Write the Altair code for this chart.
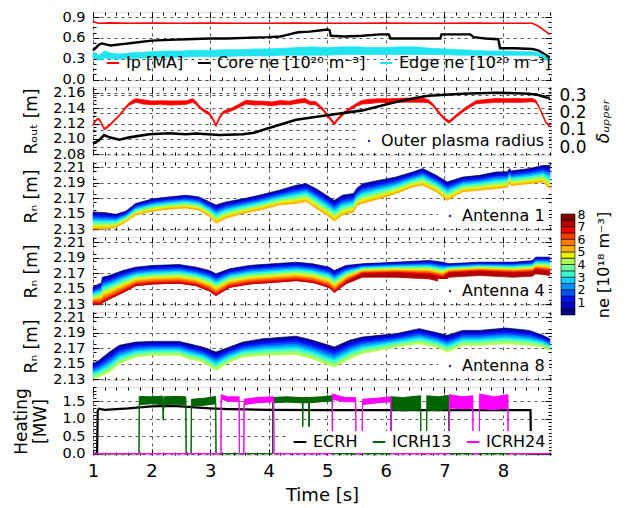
import altair as alt
import pandas as pd

FONT = "DejaVu Sans"
W, H, GAP = 458, 68, 7
XDOM = [1.0, 8.82]
YDOM1 = [-0.007, 0.972]
YDOM2 = [2.0791, 2.1674]
DDOM2 = [-0.046, 0.348]
YDOMA = [2.1288, 2.2165]
YDOM6 = [-0.037, 1.9]

# ---------------- Panel 1: Ip, core ne, edge ne ----------------
IP_T = [1.00, 1.05, 1.10, 1.30, 1.60, 2.00, 2.50, 3.00, 3.50, 4.00, 4.50, 5.00, 5.50, 6.00, 6.50, 7.00, 7.50, 8.00, 8.50, 8.60, 8.70, 8.80]
IP_V = [0.83, 0.82, 0.81, 0.815, 0.81, 0.812, 0.81, 0.812, 0.81, 0.81, 0.812, 0.81, 0.81, 0.812, 0.81, 0.81, 0.812, 0.81, 0.81, 0.77, 0.71, 0.65]

CORE_T = [1.00, 1.05, 1.10, 1.15, 1.20, 1.30, 1.40, 1.50, 1.70, 2.00, 2.30, 2.60, 3.00, 3.30, 3.60,
          4.00, 4.20, 4.30, 4.40, 4.50, 4.70, 4.90, 5.00, 5.04, 5.06, 5.30, 5.60, 5.90, 6.05, 6.08,
          6.30, 6.60, 6.93, 6.95, 7.20, 7.44, 7.50, 7.70, 7.92, 7.95, 8.20, 8.50, 8.60, 8.70, 8.80]
CORE_V = [0.42, 0.46, 0.50, 0.52, 0.51, 0.49, 0.50, 0.51, 0.53, 0.56, 0.57, 0.58, 0.59, 0.59, 0.60,
          0.61, 0.62, 0.64, 0.66, 0.68, 0.69, 0.71, 0.72, 0.71, 0.63, 0.62, 0.63, 0.65, 0.65, 0.59,
          0.59, 0.59, 0.59, 0.65, 0.65, 0.65, 0.61, 0.59, 0.58, 0.45, 0.45, 0.44, 0.42, 0.37, 0.32]

EDGE_T = [1.00, 1.05, 1.10, 1.15, 1.20, 1.30, 1.40, 1.50, 1.60, 1.80, 2.00, 2.25, 2.50, 2.75, 3.00,
          3.25, 3.50, 3.75, 4.00, 4.25, 4.50, 4.75, 5.00, 5.25, 5.50, 5.75, 6.00, 6.25, 6.50, 6.75,
          7.00, 7.25, 7.50, 7.75, 8.00, 8.25, 8.50, 8.60, 8.70, 8.80]
EDGE_LO = [0.31, 0.30, 0.28, 0.29, 0.31, 0.30, 0.29, 0.30, 0.30, 0.31, 0.31, 0.32, 0.32, 0.33, 0.33,
           0.33, 0.34, 0.34, 0.34, 0.35, 0.35, 0.35, 0.35, 0.36, 0.36, 0.36, 0.36, 0.36, 0.36, 0.36,
           0.36, 0.35, 0.35, 0.35, 0.35, 0.35, 0.35, 0.34, 0.30, 0.26]
EDGE_HI = [0.39, 0.37, 0.35, 0.38, 0.41, 0.38, 0.37, 0.37, 0.38, 0.39, 0.40, 0.41, 0.41, 0.42, 0.42,
           0.43, 0.43, 0.44, 0.44, 0.45, 0.46, 0.47, 0.46, 0.47, 0.47, 0.46, 0.46, 0.47, 0.47, 0.45,
           0.44, 0.43, 0.42, 0.41, 0.41, 0.40, 0.40, 0.39, 0.35, 0.30]
LEG1 = ["Ip [MA]", "Core ne [10²⁰ m⁻³]", "Edge ne [10²⁰ m⁻³]"]

# ---------------- Panel 2: outer radius and triangularity ----------------
ROUT_T = [1.00, 1.10, 1.19, 1.28, 1.45, 1.62, 1.96, 2.30, 2.58, 2.76, 3.16, 3.56, 3.75, 3.95,
          4.30, 4.47, 5.03, 5.60, 6.17, 6.50, 6.73, 7.31, 7.88, 8.45, 8.60, 8.73, 8.80]
ROUT_V = [2.094, 2.098, 2.105, 2.102, 2.099, 2.102, 2.106, 2.1073, 2.106, 2.107, 2.105, 2.106, 2.108, 2.113,
          2.121, 2.125, 2.131, 2.137, 2.148, 2.153, 2.156, 2.1587, 2.160, 2.1587, 2.157, 2.154, 2.153]

DELTA_T = [1.00, 1.04, 1.08, 1.12, 1.16, 1.19, 1.23, 1.28, 1.35, 1.45, 1.55, 1.62, 1.68, 1.74, 1.85,
           2.00, 2.15, 2.30, 2.45, 2.60, 2.70, 2.76, 2.82, 2.90, 2.99, 3.05, 3.10, 3.16, 3.22, 3.30,
           3.38, 3.50, 3.61, 3.75, 3.90, 4.05, 4.20, 4.35, 4.50, 4.62, 4.70, 4.80, 4.92, 5.03, 5.12,
           5.20, 5.30, 5.38, 5.50, 5.60, 5.75, 5.90, 6.05, 6.20, 6.35, 6.50, 6.65, 6.73, 6.80, 6.86,
           6.93, 7.00, 7.08, 7.15, 7.20, 7.35, 7.54, 7.70, 7.88, 8.05, 8.20, 8.35, 8.50, 8.56, 8.62,
           8.68, 8.73, 8.80]
DELTA_C = [0.129, 0.150, 0.164, 0.155, 0.125, 0.106, 0.112, 0.125, 0.150, 0.183, 0.225, 0.250, 0.262, 0.270, 0.262,
           0.256, 0.258, 0.255, 0.256, 0.258, 0.270, 0.255, 0.230, 0.210, 0.192, 0.160, 0.125, 0.170, 0.200, 0.210,
           0.220, 0.240, 0.260, 0.255, 0.255, 0.250, 0.258, 0.255, 0.265, 0.270, 0.255, 0.255, 0.220, 0.173, 0.135,
           0.170, 0.200, 0.220, 0.245, 0.260, 0.265, 0.270, 0.268, 0.270, 0.272, 0.270, 0.270, 0.265, 0.245, 0.220,
           0.190, 0.164, 0.145, 0.165, 0.180, 0.220, 0.260, 0.265, 0.270, 0.270, 0.270, 0.270, 0.272, 0.265, 0.230,
           0.183, 0.145, 0.120]
DELTA_HW = [0.005, 0.005, 0.005, 0.005, 0.005, 0.005, 0.005, 0.005, 0.005, 0.005, 0.006, 0.007, 0.011, 0.010, 0.012,
            0.011, 0.010, 0.012, 0.011, 0.010, 0.011, 0.009, 0.007, 0.007, 0.007, 0.007, 0.007, 0.007, 0.007, 0.008,
            0.008, 0.010, 0.011, 0.012, 0.010, 0.011, 0.012, 0.010, 0.011, 0.012, 0.010, 0.009, 0.007, 0.007, 0.007,
            0.007, 0.007, 0.007, 0.008, 0.011, 0.012, 0.010, 0.012, 0.011, 0.012, 0.010, 0.011, 0.009, 0.007, 0.007,
            0.007, 0.007, 0.007, 0.007, 0.007, 0.008, 0.009, 0.010, 0.011, 0.010, 0.011, 0.010, 0.009, 0.007, 0.005,
            0.005, 0.005, 0.005]
LEG2 = ["Outer plasma radius"]

# ---------------- Panels 3-5: reflectometry layers ----------------
A1_T = [1.00, 1.22, 1.39, 1.56, 1.73, 2.02, 2.30, 2.59, 2.81, 2.99, 3.10, 3.27, 3.56, 3.84, 4.18,
        4.47, 4.64, 4.81, 5.03, 5.12, 5.26, 5.45, 5.50, 5.60, 5.89, 6.17, 6.46, 6.63, 6.86, 7.05,
        7.31, 7.60, 7.88, 8.08, 8.11, 8.14, 8.45, 8.68, 8.80]
A1_TOP = [2.152, 2.151, 2.149, 2.153, 2.163, 2.169, 2.1715, 2.1737, 2.1715, 2.165, 2.161, 2.165, 2.169, 2.1737, 2.180,
          2.1865, 2.1886, 2.182, 2.1715, 2.167, 2.1737, 2.176, 2.182, 2.1886, 2.193, 2.197, 2.2036, 2.208, 2.1993, 2.1907,
          2.197, 2.1993, 2.2036, 2.204, 2.208, 2.205, 2.208, 2.212, 2.212]
A1_BOT = [2.130, 2.130, 2.132, 2.139, 2.148, 2.153, 2.1557, 2.157, 2.1544, 2.146, 2.1372, 2.144, 2.150, 2.1544, 2.161,
          2.163, 2.1655, 2.1565, 2.146, 2.140, 2.148, 2.152, 2.160, 2.163, 2.169, 2.1757, 2.1843, 2.1865, 2.178, 2.167,
          2.178, 2.180, 2.182, 2.184, 2.190, 2.186, 2.1886, 2.1907, 2.182]

A4_T = [1.00, 1.10, 1.15, 1.16, 1.28, 1.51, 1.73, 2.02, 2.47, 2.76, 2.99, 3.10, 3.33, 3.67, 4.07,
        4.47, 4.75, 5.03, 5.12, 5.32, 5.60, 6.17, 6.74, 6.97, 7.08, 7.60, 8.17, 8.50, 8.56, 8.80]
A4_TOP = [2.1516, 2.156, 2.157, 2.1646, 2.1668, 2.1733, 2.1776, 2.1798, 2.181, 2.1776, 2.1733, 2.169, 2.1754, 2.1798, 2.182,
          2.184, 2.182, 2.1776, 2.1733, 2.1798, 2.182, 2.184, 2.1863, 2.184, 2.182, 2.184, 2.184, 2.186, 2.1905, 2.1905]
A4_MID = [2.130, 2.130, 2.130, 2.132, 2.1365, 2.145, 2.1538, 2.156, 2.157, 2.1538, 2.147, 2.141, 2.1516, 2.156, 2.158,
          2.1603, 2.158, 2.1516, 2.145, 2.158, 2.169, 2.170, 2.168, 2.164, 2.170, 2.172, 2.170, 2.171, 2.174, 2.172]
A4_BOT = [2.130, 2.130, 2.130, 2.132, 2.1365, 2.145, 2.1538, 2.156, 2.157, 2.1538, 2.147, 2.141, 2.1516, 2.156, 2.158,
          2.1603, 2.158, 2.1516, 2.145, 2.156, 2.1646, 2.1646, 2.1624, 2.158, 2.1646, 2.1668, 2.1646, 2.166, 2.169, 2.167]

A8_T = [1.00, 1.10, 1.28, 1.45, 1.73, 2.02, 2.47, 2.64, 2.87, 3.10, 3.33, 3.56, 3.90, 4.47, 4.75,
        5.03, 5.12, 5.38, 5.60, 5.89, 6.17, 6.57, 6.86, 7.05, 7.31, 7.60, 8.05, 8.45, 8.68, 8.80]
A8_TOP = [2.150, 2.154, 2.1648, 2.1735, 2.1777, 2.1786, 2.1786, 2.1755, 2.1713, 2.1648, 2.1713, 2.1777, 2.182, 2.1853, 2.180,
          2.1735, 2.1713, 2.180, 2.1842, 2.1864, 2.1885, 2.195, 2.190, 2.1864, 2.1928, 2.1928, 2.1958, 2.1928, 2.1864, 2.182]
A8_BOT = [2.1304, 2.1326, 2.139, 2.1497, 2.1584, 2.1606, 2.1606, 2.156, 2.152, 2.1412, 2.152, 2.1584, 2.1606, 2.1617, 2.156,
          2.1477, 2.1455, 2.156, 2.163, 2.167, 2.1713, 2.1755, 2.1713, 2.1648, 2.1735, 2.1735, 2.1755, 2.1735, 2.1713, 2.167]

ANT_LABELS = ["Antenna 1", "Antenna 4", "Antenna 8"]
CB_BOUNDS = [0.0, 0.5, 1.0, 1.5, 2.0, 2.5, 3.0, 3.5, 4.0, 4.5, 5.0, 5.5, 6.0, 6.5, 7.0, 7.5, 8.0]
CB_TICKS = [1, 2, 3, 4, 5, 6, 7, 8]
JET16 = ["#000080", "#0000c8", "#0010ff", "#0050ff", "#0090ff", "#00d0ff", "#30ffd0", "#70ffa0",
         "#b0ff50", "#e8f000", "#ffb400", "#ff7800", "#ff3c00", "#f00000", "#b40000", "#800000"]
LEVELS = ["L%02d" % k for k in range(16)]

# ---------------- Panel 6: heating ----------------
ECRH_T = [1.00, 1.07, 1.08, 1.10, 1.20, 1.40, 1.60, 1.80, 2.00, 2.30, 2.50, 2.80, 3.00, 3.30, 3.60,
          4.00, 5.00, 6.00, 7.00, 8.00, 8.47, 8.48, 8.80]
ECRH_V = [0.00, 0.00, 1.22, 1.28, 1.25, 1.27, 1.29, 1.32, 1.35, 1.36, 1.35, 1.31, 1.29, 1.27, 1.26,
          1.25, 1.24, 1.24, 1.24, 1.24, 1.24, 0.00, 0.00]
G_T = [1.0, 1.785, 1.79, 2.0, 2.19, 2.2, 2.21, 2.4, 2.585, 2.59, 2.675, 2.68, 2.9, 3.095, 3.10,
       4.065, 4.07, 4.3, 4.575, 4.58, 4.585, 4.685, 4.69, 4.695, 4.9, 5.085, 5.09, 6.085, 6.09, 6.3,
       6.595, 6.60, 6.695, 6.70, 6.9, 7.075, 7.08, 8.8]
G_LO = [0, 0, 1.40, 1.42, 1.40, 0.95, 1.40, 1.41, 1.40, 0, 0, 1.35, 1.38, 1.42, 0,
        0, 1.45, 1.47, 1.45, 0.76, 1.45, 1.45, 0.76, 1.45, 1.48, 1.50, 0, 0, 1.25, 1.22,
        1.25, 0, 0, 1.25, 1.22, 1.28, 0, 0]
G_HI = [0, 0, 1.63, 1.62, 1.64, 1.00, 1.62, 1.63, 1.62, 0, 0, 1.55, 1.58, 1.63, 0,
        0, 1.60, 1.62, 1.60, 0.80, 1.60, 1.60, 0.80, 1.60, 1.62, 1.65, 0, 0, 1.62, 1.60,
        1.65, 0, 0, 1.65, 1.62, 1.66, 0, 0]
M_T = [1.0, 3.185, 3.19, 3.3, 3.495, 3.5, 3.575, 3.58, 3.8, 4.085, 4.09, 5.085, 5.09, 5.3, 5.485,
       5.49, 5.595, 5.60, 5.85, 6.085, 6.09, 7.085, 7.09, 7.3, 7.485, 7.49, 7.595, 7.60, 7.85, 8.085,
       8.09, 8.8]
M_LO = [0, 0, 1.55, 1.50, 1.48, 0, 0, 1.40, 1.45, 1.48, 0, 0, 1.55, 1.48, 1.48,
        0, 0, 1.40, 1.45, 1.48, 0, 0, 1.30, 1.28, 1.30, 0, 0, 1.28, 1.25, 1.30, 0, 0]
M_HI = [0, 0, 1.68, 1.62, 1.62, 0, 0, 1.55, 1.60, 1.62, 0, 0, 1.70, 1.60, 1.60,
        0, 0, 1.55, 1.58, 1.62, 0, 0, 1.68, 1.62, 1.65, 0, 0, 1.70, 1.62, 1.68, 0, 0]
LEG6 = ["ECRH", "ICRH13", "ICRH24"]

X_MAJ = [1, 2, 3, 4, 5, 6, 7, 8]
X_MIN = [round(1 + 0.2 * i, 1) for i in range(40) if i % 5]


def sc(dom, rng=None):
    if rng is None:
        return alt.Scale(domain=dom, nice=False, zero=False)
    return alt.Scale(domain=dom, range=rng, nice=False, zero=False)


def ax(orient, values, size, labels=False, grid=False, title=None, fmt=None, lsize=14, lpad=7, **extra):
    kw = dict(orient=orient, values=values, tickSize=size, offset=-size, domain=False,
              ticks=True, tickColor="black", tickWidth=1, labels=labels, grid=grid,
              labelFlush=False, labelOverlap=False)
    if grid:
        kw.update(gridColor="black", gridDash=[3, 4], gridWidth=0.8, gridOpacity=0.85)
    if labels:
        kw.update(labelFont=FONT, labelFontSize=lsize, labelColor="black", labelPadding=lpad)
        if fmt:
            kw["format"] = fmt
    kw["title"] = title
    if title is not None:
        kw.update(titleFont=FONT, titleFontSize=17, titleFontWeight="normal", titleColor="black")
    kw.update(extra)
    return alt.Axis(**kw)


def carrier(df, xf, yf, ydom, xaxis, yaxis):
    return alt.Chart(df).mark_point(opacity=0).encode(
        x=alt.X(f"{xf}:Q", scale=sc(XDOM), axis=xaxis),
        y=alt.Y(f"{yf}:Q", scale=sc(ydom), axis=yaxis),
    )


def frame_layers(df, xf, yf, ydom, ymaj, ymin, yfmt, ytitle=None, last=False, right=True):
    if last:
        xa = ax("bottom", X_MAJ, 6, labels=True, grid=True, title="Time [s]", lsize=18, fmt="d",
                titleFontSize=18, titlePadding=6)
    else:
        xa = ax("bottom", X_MAJ, 6, grid=True)
    L = [
        carrier(df, xf, yf, ydom, xa, ax("left", ymaj, 6, labels=True, grid=True, title=ytitle, fmt=yfmt,
                                         lsize=14.5, lpad=8, titlePadding=12)),
        carrier(df, xf, yf, ydom, ax("top", X_MAJ, 6), ax("right", ymaj, 6) if right else None),
        carrier(df, xf, yf, ydom, ax("bottom", X_MIN, 3), ax("left", ymin, 3)),
        carrier(df, xf, yf, ydom, ax("top", X_MIN, 3), ax("right", ymin, 3) if right else None),
    ]
    return L


def line(df, xf, yf, ydom, color, width):
    return alt.Chart(df).mark_line(color=color, strokeWidth=width).encode(
        x=alt.X(f"{xf}:Q", scale=sc(XDOM), axis=None),
        y=alt.Y(f"{yf}:Q", scale=sc(ydom), axis=None),
    )


def band(df, xf, lo, hi, ydom, color, sw=0.8):
    return alt.Chart(df).mark_area(color=color, stroke=color, strokeWidth=sw, opacity=1).encode(
        x=alt.X(f"{xf}:Q", scale=sc(XDOM), axis=None),
        y=alt.Y(f"{hi}:Q", scale=sc(ydom), axis=None, stack=None),
        y2=f"{lo}:Q",
    )


def legend_layer(labels, colors, mark, **legkw):
    base = dict(title=None, labelFont=FONT, labelFontSize=16, labelColor="black", symbolOpacity=1,
                labelLimit=400)
    base.update(legkw)
    ch = alt.Chart(pd.DataFrame({"s": labels}))
    m = ch.mark_line(opacity=0) if mark == "line" else ch.mark_circle(opacity=0)
    return m.encode(
        x=alt.value(0), y=alt.value(0),
        color=alt.Color("s:N", scale=alt.Scale(domain=labels, range=colors), legend=alt.Legend(**base)),
    )


def rows_bands(t, top, bot, first, nlev):
    rows = []
    for ti, a, b in zip(t, top, bot):
        for k in range(nlev):
            rows.append({"t": ti, "hi": a - (a - b) * k / nlev, "lo": a - (a - b) * (k + 1) / nlev,
                         "lev": LEVELS[first + k]})
    return rows


def band_chart(rows):
    return alt.Chart(pd.DataFrame(rows)).mark_area(strokeWidth=0.7).encode(
        x=alt.X("t:Q", scale=sc(XDOM), axis=None),
        y=alt.Y("hi:Q", scale=sc(YDOMA), axis=None, stack=None),
        y2="lo:Q",
        fill=alt.Fill("lev:N", scale=alt.Scale(domain=LEVELS, range=JET16), legend=None),
        stroke=alt.Stroke("lev:N", scale=alt.Scale(domain=LEVELS, range=JET16), legend=None),
    )


def panel(layers):
    return alt.layer(*layers).properties(width=W, height=H).resolve_scale(
        x="independent", y="independent", color="independent")


def ticks_from(lo, hi, step, skip_step):
    out = []
    v = lo
    while v <= hi + 1e-9:
        if abs(round(v / skip_step) * skip_step - v) > 1e-6:
            out.append(round(v, 4))
        v += step
    return out


# ---- Panel 1
ip_df = pd.DataFrame({"t": IP_T, "v": IP_V})
core_df = pd.DataFrame({"t": CORE_T, "v": CORE_V})
edge_df = pd.DataFrame({"t": EDGE_T, "lo": EDGE_LO, "hi": EDGE_HI})
Y1_MAJ = [0.0, 0.3, 0.6, 0.9]
Y1_MIN = ticks_from(0.075, 0.95, 0.075, 0.3)
p1 = panel([
    line(ip_df, "t", "v", YDOM1, "#ff0000", 1.6),
    line(core_df, "t", "v", YDOM1, "#000000", 2.4),
    band(edge_df, "t", "lo", "hi", YDOM1, "#22e4ee"),
    legend_layer(LEG1, ["#ff0000", "#000000", "#22e4ee"], "line", orient="none", legendX=12, legendY=43,
                 direction="horizontal", symbolType="stroke", symbolStrokeWidth=2, symbolSize=150,
                 columnPadding=9, labelOffset=5, padding=0),
] + frame_layers(ip_df, "t", "v", YDOM1, Y1_MAJ, Y1_MIN, ".1f"))

# ---- Panel 2
rout_df = pd.DataFrame({"t": ROUT_T, "v": ROUT_V})
delta_df = pd.DataFrame({"t": DELTA_T, "c": DELTA_C, "hw": DELTA_HW})
delta_df["lo"] = delta_df["c"] - delta_df["hw"]
delta_df["hi"] = delta_df["c"] + delta_df["hw"]
Y2_MAJ = [2.08, 2.10, 2.12, 2.14, 2.16]
Y2_MIN = ticks_from(2.085, 2.165, 0.005, 0.02)
D_MAJ = [0.0, 0.1, 0.2, 0.3]
D_MIN = ticks_from(0.02, 0.34, 0.02, 0.1)
p2 = panel([
    band(delta_df, "t", "lo", "hi", DDOM2, "#ff0000", 0.8),
    line(rout_df, "t", "v", YDOM2, "#000000", 2.6),
    legend_layer(LEG2, ["#2a2ab0"], "circle", orient="bottom-right", offset=2, padding=4,
                 fillColor="white", symbolSize=6, symbolType="circle"),
] + frame_layers(rout_df, "t", "v", YDOM2, Y2_MAJ, Y2_MIN, ".2f", ytitle="Rₒᵤₜ [m]", right=False) + [
    carrier(delta_df, "t", "c", DDOM2, None,
            ax("right", D_MAJ, 6, labels=True, grid=True, title="δᵤₚₚₑᵣ", fmt=".1f", lsize=17, lpad=8,
               titleAngle=270, titleBaseline="top", titleFontStyle="italic", titlePadding=9)),
    carrier(delta_df, "t", "c", DDOM2, None, ax("right", D_MIN, 3)),
])

# ---- Panels 3-5
YA_MAJ = [2.13, 2.15, 2.17, 2.19, 2.21]
YA_MIN = ticks_from(2.13, 2.215, 0.005, 0.02)
a1_rows = rows_bands(A1_T, A1_TOP, A1_BOT, 0, 11)
a4_rows = rows_bands(A4_T, A4_TOP, A4_MID, 0, 14) + rows_bands(A4_T, A4_MID, A4_BOT, 14, 1)
a8_rows = rows_bands(A8_T, A8_TOP, A8_BOT, 0, 9)

cb_df = pd.DataFrame({"lo": CB_BOUNDS[:-1], "hi": CB_BOUNDS[1:], "lev": LEVELS})
cbar = alt.Chart(cb_df).mark_rect(stroke="black", strokeWidth=0.6).encode(
    x=alt.value(W + 10), x2=alt.value(W + 24),
    y=alt.Y("lo:Q", scale=sc([0, 8], [78, -23]),
            axis=alt.Axis(orient="right", offset=24, values=CB_TICKS, ticks=False, domain=False, grid=False,
                          labelFont=FONT, labelFontSize=12.5, labelColor="black", labelPadding=2,
                          labelFlush=False, labelOverlap=False,
                          title="ne [10¹⁸ m⁻³]", titleFont=FONT, titleFontSize=16, titleFontWeight="normal",
                          titleColor="black", titleAngle=270, titleBaseline="top", titlePadding=11)),
    y2="hi:Q",
    fill=alt.Fill("lev:N", scale=alt.Scale(domain=LEVELS, range=JET16), legend=None),
)


def antenna_panel(rows, label, extra=None):
    carrier_df = pd.DataFrame(rows)
    L = [band_chart(rows),
         legend_layer([label], ["#2a2ab0"], "circle", orient="bottom-right", offset=2, padding=4,
                      fillColor="white", symbolSize=6, symbolType="circle")]
    if extra is not None:
        L.append(extra)
    L += frame_layers(carrier_df, "t", "hi", YDOMA, YA_MAJ, YA_MIN, ".2f", ytitle="Rₙ [m]")
    return panel(L)


p3 = antenna_panel(a1_rows, ANT_LABELS[0])
p4 = antenna_panel(a4_rows, ANT_LABELS[1], cbar)
p5 = antenna_panel(a8_rows, ANT_LABELS[2])

# ---- Panel 6
ecrh_df = pd.DataFrame({"t": ECRH_T, "v": ECRH_V})
g_df = pd.DataFrame({"t": G_T, "lo": G_LO, "hi": G_HI})
m_df = pd.DataFrame({"t": M_T, "lo": M_LO, "hi": M_HI})
Y6_MAJ = [0.0, 0.5, 1.0, 1.5]
Y6_MIN = ticks_from(0.1, 1.9, 0.1, 0.5)
p6 = panel([
    line(ecrh_df, "t", "v", YDOM6, "#000000", 2.2),
    band(g_df, "t", "lo", "hi", YDOM6, "#006400", 1.0),
    band(m_df, "t", "lo", "hi", YDOM6, "#ff00ff", 1.0),
    legend_layer(LEG6, ["#000000", "#006400", "#ff00ff"], "line", orient="bottom-right", offset=2, padding=3,
                 fillColor="white", direction="horizontal", symbolType="stroke", symbolStrokeWidth=2,
                 symbolSize=160, columnPadding=10, labelOffset=5),
] + frame_layers(ecrh_df, "t", "v", YDOM6, Y6_MAJ, Y6_MIN, ".1f", ytitle=["Heating", "[MW]"], last=True))

chart = alt.vconcat(p1, p2, p3, p4, p5, p6, spacing=GAP, bounds="flush").resolve_scale(
    color="independent", fill="independent", stroke="independent"
).properties(
    padding={"left": 4, "top": 0, "right": 0, "bottom": 0}
).configure_view(stroke="black", strokeWidth=1.2).configure(font=FONT)

chart.save("out.html", embed_options={"renderer": "svg", "actions": False})
